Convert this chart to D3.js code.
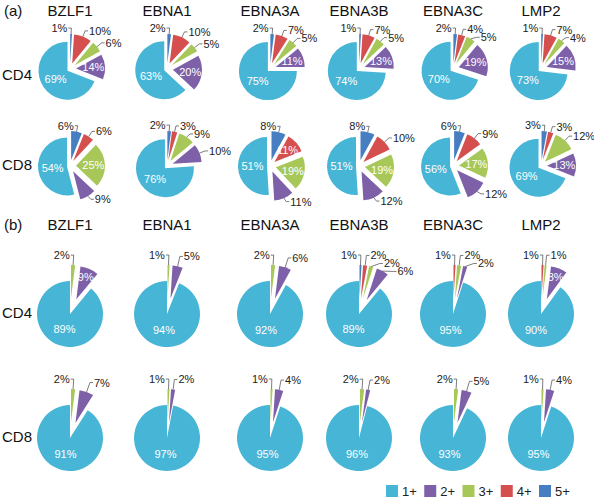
<!DOCTYPE html>
<html><head><meta charset="utf-8">
<script src="https://cdn.jsdelivr.net/npm/d3@7/dist/d3.min.js"></script>
<style>body{margin:0;background:#fff}svg{font-family:"Liberation Sans",Arial,sans-serif}</style>
</head><body><svg width="594" height="500"></svg>
<script>
// ---------- data ----------
const genes = ["BZLF1","EBNA1","EBNA3A","EBNA3B","EBNA3C","LMP2"];
const levels = ["5+","4+","3+","2+","1+"];          // clockwise from 12 o'clock
const legendLevels = ["1+","2+","3+","4+","5+"];
const levelColors = ["#47b5d6","#7d60a8","#a7c859","#d54f4f","#477ec1"];

// (a)
const aCD4_5 = [1,2,2,1,2,1];
const aCD4_4 = [10,10,7,7,4,7];
const aCD4_3 = [6,5,5,5,5,4];
const aCD4_2 = [14,20,11,13,19,15];
const aCD4_1 = [69,63,75,74,70,73];
const aCD8_5 = [6,2,8,8,6,3];
const aCD8_4 = [6,3,11,10,9,3];
const aCD8_3 = [25,9,19,19,17,12];
const aCD8_2 = [9,10,11,12,12,13];
const aCD8_1 = [54,76,51,51,56,69];
// (b)
const bCD4_5 = [0,0,0,1,0,0];
const bCD4_4 = [0,0,0,2,1,1];
const bCD4_3 = [2,1,2,2,2,1];
const bCD4_2 = [9,5,6,6,2,8];
const bCD4_1 = [89,94,92,89,95,90];
const bCD8_5 = [0,0,0,0,0,0];
const bCD8_4 = [0,0,0,0,0,0];
const bCD8_3 = [2,1,1,2,2,1];
const bCD8_2 = [7,2,4,2,5,4];
const bCD8_1 = [91,97,95,96,93,95];

// labels written inside their slice (besides 1+)
const insideLabels = [
  "a|CD4|BZLF1|2+","a|CD4|EBNA1|2+","a|CD4|EBNA3A|2+","a|CD4|EBNA3B|2+","a|CD4|EBNA3C|2+","a|CD4|LMP2|2+",
  "a|CD8|BZLF1|3+","a|CD8|EBNA3A|4+","a|CD8|EBNA3A|3+","a|CD8|EBNA3B|3+","a|CD8|EBNA3C|3+","a|CD8|LMP2|2+",
  "b|CD4|BZLF1|2+","b|CD4|LMP2|2+"
];

// ---------- drawing ----------
const svg = d3.select("svg");
// column layout (centres of the pie columns)
const x = d3.scaleOrdinal().domain(genes).range([70,167,270,359,453,541]);
const color = d3.scaleOrdinal().domain(legendLevels).range(levelColors);
const pie = d3.pie().sort(null).value(d => d.v);

const panels = [
  {key:"a", tag:"(a)", titleY:16, r:29, off:6, off1:3, lead:6, inF:0.6,
   rows:[["CD4",69,80,[aCD4_5,aCD4_4,aCD4_3,aCD4_2,aCD4_1]],
         ["CD8",166,170,[aCD8_5,aCD8_4,aCD8_3,aCD8_2,aCD8_1]]]},
  {key:"b", tag:"(b)", titleY:230, r:33, off:16, off1:0, lead:10, inF:0.72,
   rows:[["CD4",314,318,[bCD4_5,bCD4_4,bCD4_3,bCD4_2,bCD4_1]],
         ["CD8",438,442,[bCD8_5,bCD8_4,bCD8_3,bCD8_2,bCD8_1]]]}
];

function textW(s){ let w=0; for(const c of s) w += (c==="%"?9.8:6.1); return w; }
const overlaps = (b, tx, ty, w) => tx < b[2] && tx + w > b[0] && ty - 8 < b[3] && ty > b[1];

panels.forEach(p => {
  svg.append("text").attr("x",4).attr("y",p.titleY).attr("font-size",15).attr("fill","#111").text(p.tag);
  genes.forEach(g => svg.append("text").attr("x",x(g)).attr("y",p.titleY)
     .attr("text-anchor","middle").attr("font-size",15).attr("fill","#111").text(g));
  p.rows.forEach(([name, cy, ly, series]) => {
    svg.append("text").attr("x",2).attr("y",ly).attr("font-size",15).attr("fill","#111").text(name);
    genes.forEach((g, gi) => {
      const data = levels.map((lv, li) => ({level:lv, v:series[li][gi]}));
      const arcs = pie(data);
      const cx = x(g);
      const arc = d3.arc().innerRadius(0).outerRadius(p.r);
      const G = svg.append("g").attr("transform",`translate(${cx},${cy})`);
      const boxes = [];
      let first = true;
      arcs.forEach(a => {
        if (a.data.v <= 0) return;
        const isFirst = first; first = false;
        const m = (a.startAngle + a.endAngle) / 2;
        const ux = Math.sin(m), uy = -Math.cos(m);
        const main = a.data.level === "1+";
        const o = main ? p.off1 : p.off;
        const ox = o*ux, oy = o*uy;
        G.append("path").attr("d", arc(a)).attr("transform",`translate(${ox},${oy})`)
          .attr("fill", color(a.data.level));
        const label = a.data.v + "%";
        const key = `${p.key}|${name}|${g}|${a.data.level}`;
        if (main || insideLabels.includes(key)) {
          const f = main ? 0.5 : p.inF;
          G.append("text").attr("x", ox + f*p.r*ux).attr("y", oy + f*p.r*uy).attr("dy","0.35em")
            .attr("text-anchor","middle").attr("font-size",11).attr("fill","#fff").text(label);
          return;
        }
        const Ax = ox + p.r*ux, Ay = oy + p.r*uy;
        const Ex = Ax + p.lead*ux, Ey = Ay + p.lead*uy;
        const w = textW(label);
        if (isFirst && m < 0.4) {
          const Hx = Ex - 3;
          G.append("path").attr("d",`M${Ax},${Ay}L${Ex},${Ey}L${Hx},${Ey}`)
            .attr("fill","none").attr("stroke","#444").attr("stroke-width",0.7);
          G.append("text").attr("x",Hx-1).attr("y",Ey+4).attr("text-anchor","end")
            .attr("font-size",11).attr("fill","#222").text(label);
          boxes.push([Hx-1-w, Ey-5, Hx-1, Ey+4]);
        } else {
          const low = uy > 0;
          let tx = Ex + 4, ty = Ey + (low ? 2 : 4);
          let guard = 0, hit;
          while (guard++ < 10 && (hit = boxes.find(b => overlaps(b, tx, ty, w)))) {
            ty = Math.max(ty, hit[3] + 8);
            tx = Math.max(tx, hit[0] + (hit[2]-hit[0])*0.85);
          }
          const ly2 = ty - 4;
          const elbowX = Math.max(Ex, Math.min(tx - 4, Ex + Math.abs(ly2 - Ey)));
          G.append("path").attr("d",`M${Ax},${Ay}L${elbowX},${ly2}L${tx-1},${ly2}`)
            .attr("fill","none").attr("stroke","#444").attr("stroke-width",0.7);
          G.append("text").attr("x",tx).attr("y",ty).attr("font-size",11).attr("fill","#222").text(label);
          boxes.push([tx, ty-8, tx+w, ty]);
        }
      });
    });
  });
});

// legend
const lx = d3.scalePoint().domain(legendLevels).range([386,539]);
const lg = svg.append("g");
legendLevels.forEach(l => {
  lg.append("rect").attr("x",lx(l)).attr("y",485).attr("width",12).attr("height",12).attr("fill",color(l));
  lg.append("text").attr("x",lx(l)+16).attr("y",496).attr("font-size",13).attr("fill","#222").text(l);
});
</script></body></html>
